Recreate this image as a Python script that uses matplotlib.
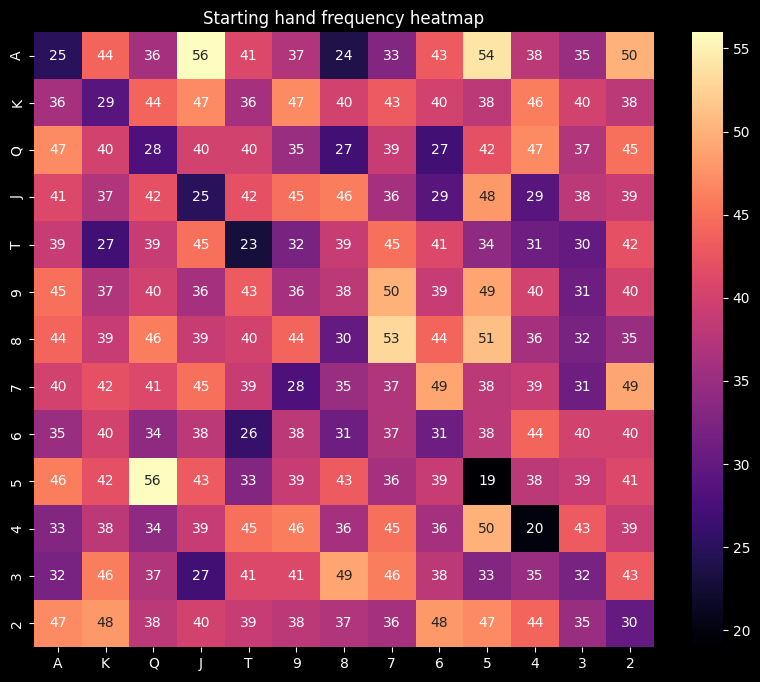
import numpy as np
import matplotlib as mpl
mpl.use('Agg')
import matplotlib.pyplot as plt
import seaborn as sns

RANKS = ['A', 'K', 'Q', 'J', 'T', '9', '8', '7', '6', '5', '4', '3', '2']

row_A = [25, 44, 36, 56, 41, 37, 24, 33, 43, 54, 38, 35, 50]
row_K = [36, 29, 44, 47, 36, 47, 40, 43, 40, 38, 46, 40, 38]
row_Q = [47, 40, 28, 40, 40, 35, 27, 39, 27, 42, 47, 37, 45]
row_J = [41, 37, 42, 25, 42, 45, 46, 36, 29, 48, 29, 38, 39]
row_T = [39, 27, 39, 45, 23, 32, 39, 45, 41, 34, 31, 30, 42]
row_9 = [45, 37, 40, 36, 43, 36, 38, 50, 39, 49, 40, 31, 40]
row_8 = [44, 39, 46, 39, 40, 44, 30, 53, 44, 51, 36, 32, 35]
row_7 = [40, 42, 41, 45, 39, 28, 35, 37, 49, 38, 39, 31, 49]
row_6 = [35, 40, 34, 38, 26, 38, 31, 37, 31, 38, 44, 40, 40]
row_5 = [46, 42, 56, 43, 33, 39, 43, 36, 39, 19, 38, 39, 41]
row_4 = [33, 38, 34, 39, 45, 46, 36, 45, 36, 50, 20, 43, 39]
row_3 = [32, 46, 37, 27, 41, 41, 49, 46, 38, 33, 35, 32, 43]
row_2 = [47, 48, 38, 40, 39, 38, 37, 36, 48, 47, 44, 35, 30]

freq = np.array([row_A, row_K, row_Q, row_J, row_T, row_9, row_8,
                 row_7, row_6, row_5, row_4, row_3, row_2])

plt.style.use('dark_background')
fig = plt.figure(figsize=(7.6, 6.82), dpi=100)
ax = fig.add_axes([0.0447, 0.0513, 0.8158, 0.902])
cax = fig.add_axes([0.9105, 0.0513, 0.0408, 0.902])

sns.heatmap(freq, ax=ax, cbar_ax=cax, cmap='magma', annot=True, fmt='d',
            xticklabels=RANKS, yticklabels=RANKS)
ax.set_title('Starting hand frequency heatmap')

fig.savefig('out.png', dpi=100)
